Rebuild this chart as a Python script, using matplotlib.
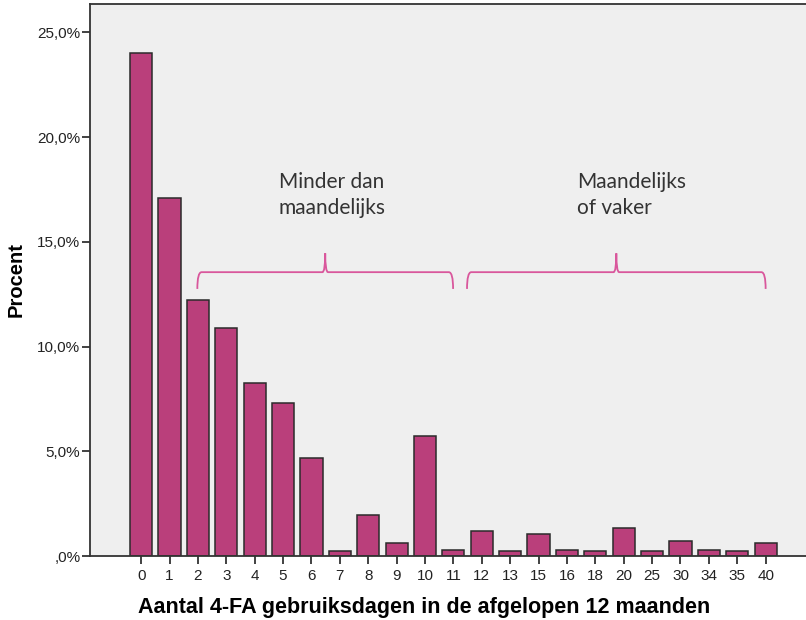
import matplotlib
matplotlib.use("Agg")
import matplotlib.pyplot as plt
from matplotlib.path import Path
from matplotlib.patches import PathPatch

# days of use in the past 12 months, with percent of respondents
dagen = ["0", "1", "2", "3", "4", "5", "6", "7", "8", "9", "10", "11",
         "12", "13", "15", "16", "18", "20", "25", "30", "34", "35", "40"]
procent = [24.0, 17.1, 12.2, 10.9, 8.25, 7.3, 4.7, 0.22, 1.97, 0.62, 5.74, 0.3,
           1.19, 0.22, 1.03, 0.3, 0.22, 1.34, 0.22, 0.7, 0.3, 0.22, 0.62]

y_ticks = [0, 5, 10, 15, 20, 25]
y_labels = [",0%", "5,0%", "10,0%", "15,0%", "20,0%", "25,0%"]

# groups for the braces: (first index, last index, label)
groepen = [(2, 11, "Minder dan\nmaandelijks"), (11, 22, "Maandelijks\nof vaker")]

bar_color = "#BA3F7B"
brace_color = "#D9579C"
bg = "#EFEFEF"


def draw_brace(ax, x0, x1, y, tip=0.9, drop=0.8, r=0.15):
    mid = (x0 + x1) / 2
    verts = [(x0, y - drop), (x0, y), (x0 + r, y),
             (mid - 0.1, y), (mid, y), (mid, y + tip),
             (mid, y), (mid + 0.1, y),
             (x1 - r, y), (x1, y), (x1, y - drop)]
    codes = [Path.MOVETO, Path.CURVE3, Path.CURVE3,
             Path.LINETO, Path.CURVE3, Path.CURVE3,
             Path.CURVE3, Path.CURVE3,
             Path.LINETO, Path.CURVE3, Path.CURVE3]
    ax.add_patch(PathPatch(Path(verts, codes), fill=False,
                           edgecolor=brace_color, lw=1.3))


fig = plt.figure(figsize=(8.06, 6.2), dpi=100)
ax = fig.add_axes([0.1117, 0.1032, 0.8893, 0.8903])
ax.set_facecolor(bg)

x = range(len(dagen))
ax.bar(x, procent, width=0.78, color=bar_color, edgecolor="#2b2b2b", linewidth=1.1)

ax.set_xlim(-1.8, 23.45)
ax.set_ylim(0, 26.35)
ax.set_xticks(list(x))
ax.set_xticklabels(dagen, fontsize=11, family="Liberation Sans", color="#222222")
ax.set_yticks(y_ticks)
ax.set_yticklabels(y_labels, fontsize=11, family="Liberation Sans", color="#222222")
ax.tick_params(axis="y", length=6, width=1.3, color="#333333", pad=1)
ax.tick_params(axis="x", length=6, width=1.3, color="#333333", pad=3)

for s in ax.spines.values():
    s.set_color("#333333")
    s.set_linewidth(1.3)

ax.set_ylabel("Procent", fontsize=14.5, fontweight="bold", family="Liberation Sans", labelpad=8)
ax.set_xlabel("Aantal 4-FA gebruiksdagen in de afgelopen 12 maanden", fontsize=15.5,
              fontweight="bold", family="Liberation Sans")
ax.xaxis.set_label_coords(0.466, -0.074)

# braces with their labels
draw_brace(ax, 1.98, 10.99, 13.55)
draw_brace(ax, 11.48, 22.0, 13.55)
ax.text(4.85, 16.34, groepen[0][2], fontsize=15, family="Lato", color="#333333",
        va="baseline", ha="left", linespacing=1.33)
ax.text(15.35, 16.34, groepen[1][2], fontsize=15, family="Lato", color="#333333",
        va="baseline", ha="left", linespacing=1.33)

fig.savefig("out.png", dpi=100, facecolor="white")
